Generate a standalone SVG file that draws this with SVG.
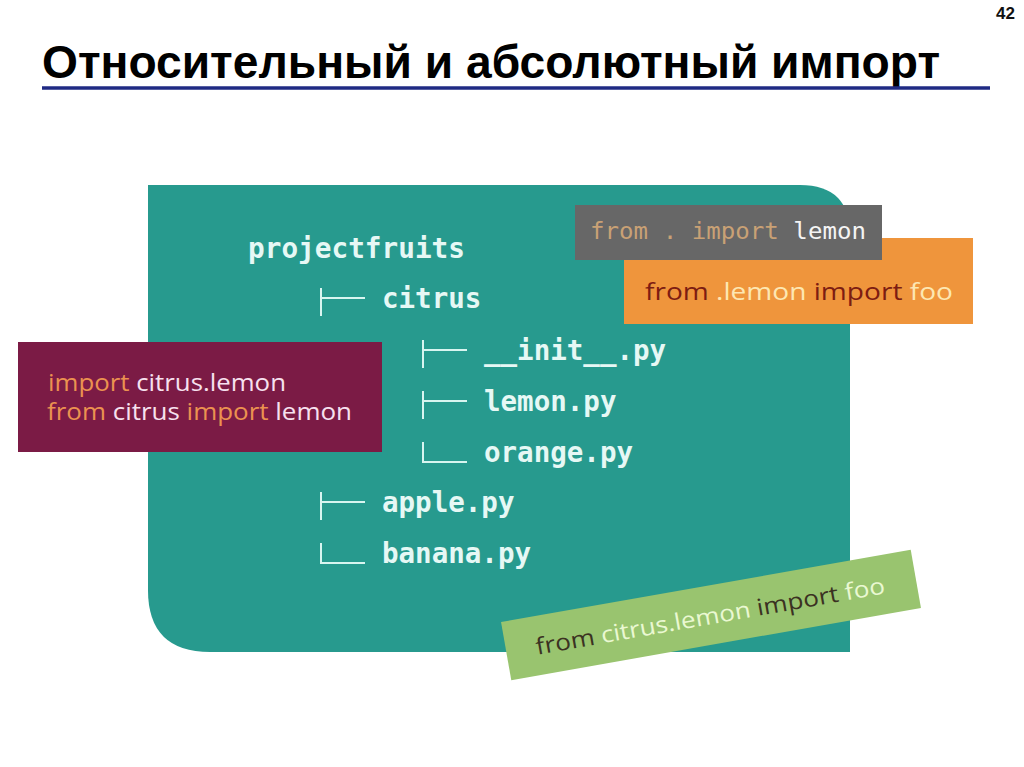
<svg xmlns="http://www.w3.org/2000/svg" width="1024" height="767" viewBox="0 0 1024 767">
<style>
.mono{font-family:"DejaVu Sans Mono","Liberation Mono",monospace;font-weight:bold;fill:#e6f8f5;font-size:27.5px}
.tree{stroke:#d8f5f0;stroke-width:2;fill:none}
.sans{font-family:"Open Sans","DejaVu Sans",sans-serif;font-size:23px}
</style>
<rect width="1024" height="767" fill="#ffffff"/>
<g id="header">
<text x="1015" y="19" text-anchor="end" font-family="Liberation Sans Narrow,Liberation Sans,sans-serif" font-weight="bold" font-size="17" fill="#111">42</text>
<text x="42" y="78" font-family="Liberation Sans Narrow,Liberation Sans,sans-serif" font-weight="bold" font-size="47" fill="#000" textLength="898" lengthAdjust="spacingAndGlyphs">Относительный и абсолютный импорт</text>
<line x1="42" y1="88" x2="990" y2="88" stroke="#1f2a84" stroke-width="3.5"/>
</g>
<g id="panel">
<path d="M148,185 H800 Q850,185 850,235 V652 H210 Q148,652 148,590 Z" fill="#279a8e"/>
</g>
<g id="tree-connectors">
<path class="tree" d="M321,288 V316 M321,298 H365"/>
<path class="tree" d="M423,340 V368 M423,350 H467"/>
<path class="tree" d="M423,391 V419 M423,401 H467"/>
<path class="tree" d="M423,442 V462 H467"/>
<path class="tree" d="M321,492 V520 M321,502 H365"/>
<path class="tree" d="M321,543 V563 H365"/>
</g>
<g id="tree-labels">
<text class="mono" x="248" y="258" textLength="217" lengthAdjust="spacingAndGlyphs">projectfruits</text>
<text class="mono" x="382" y="308">citrus</text>
<text class="mono" x="484" y="360">__init__.py</text>
<text class="mono" x="484" y="411">lemon.py</text>
<text class="mono" x="484" y="462">orange.py</text>
<text class="mono" x="382" y="512">apple.py</text>
<text class="mono" x="382" y="563">banana.py</text>
</g>
<g id="relative-module">
<rect x="624" y="238" width="349" height="86" fill="#ef953c"/>
<text class="sans" x="645" y="300" font-size="24" textLength="308" lengthAdjust="spacingAndGlyphs"><tspan fill="#7d1c12">from</tspan><tspan fill="#fde7b2"> .lemon</tspan><tspan fill="#7d1c12"> import</tspan><tspan fill="#fde7b2"> foo</tspan></text>
</g>
<g id="relative-dot">
<rect x="575" y="205" width="307" height="55" fill="#676767"/>
<text x="590" y="239" font-family="DejaVu Sans Mono,Liberation Mono,monospace" font-size="23" textLength="276" lengthAdjust="spacingAndGlyphs"><tspan fill="#c9a175">from . import</tspan><tspan fill="#f4f4f4"> lemon</tspan></text>
</g>
<g id="absolute-import">
<rect x="18" y="342" width="364" height="110" fill="#7b1b45"/>
<text class="sans" x="48" y="391" textLength="238" lengthAdjust="spacingAndGlyphs"><tspan fill="#eb9250">import</tspan><tspan fill="#f7e1ef"> citrus.lemon</tspan></text>
<text class="sans" x="47" y="420" textLength="305" lengthAdjust="spacingAndGlyphs"><tspan fill="#eb9250">from</tspan><tspan fill="#f7e1ef"> citrus </tspan><tspan fill="#eb9250">import</tspan><tspan fill="#f7e1ef"> lemon</tspan></text>
</g>
<g id="absolute-from" transform="rotate(-10 711 615)">
<rect x="503" y="585.5" width="416" height="59" fill="#99c46f"/>
<text class="sans" x="533" y="624" font-size="24" textLength="354" lengthAdjust="spacingAndGlyphs"><tspan fill="#3b3222">from</tspan><tspan fill="#eaf8d2"> citrus.lemon</tspan><tspan fill="#3b3222"> import</tspan><tspan fill="#eaf8d2"> foo</tspan></text>
</g>
</svg>
